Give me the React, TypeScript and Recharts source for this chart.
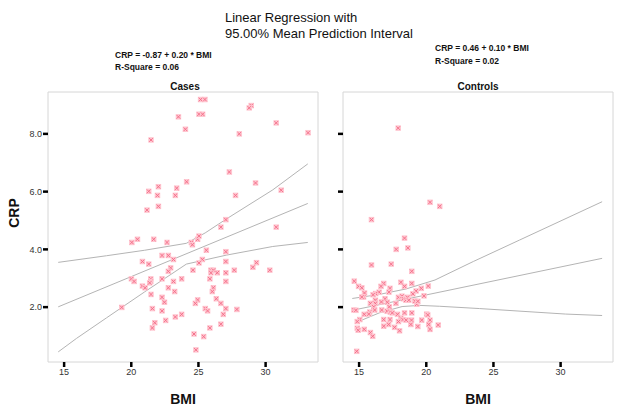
import { ScatterChart, Scatter, XAxis, YAxis, ReferenceArea } from 'recharts'

// Cases: BMI / CRP pairs
const casesBmi = [25.16, 25.48, 28.93, 28.78, 23.51, 25.04, 25.31, 30.79, 24.03, 28.04, 33.16, 21.47, 27.3, 24.12, 29.25, 21.3, 22.02, 23.38, 21.95, 23.28, 27.76, 31.16, 21.17, 22.02, 27.04, 26.67, 30.79, 20.04, 20.46, 21.67, 22.66, 24.47, 24.55, 24.94, 25.04, 22.29, 22.76, 23.14, 25.59, 27.04, 20.83, 21.3, 25.29, 25.04, 27.04, 29.32, 29.05, 30.31, 22.93, 22.76, 24.59, 25.93, 26.11, 25.93, 26.4, 27.04, 27.67, 20.01, 20.21, 21.45, 21.45, 21.37, 22.29, 23.75, 23.14, 25.85, 27.04, 20.83, 21.03, 22.76, 23.23, 26.11, 26.03, 21.47, 22.29, 22.47, 26.33, 24.94, 24.77, 26.67, 19.29, 21.57, 22.29, 25.51, 25.68, 27.04, 27.86, 26.85, 23.75, 23.28, 22.56, 21.75, 21.57, 25.85, 26.67, 24.67, 25.39, 24.81]
const casesCrp = [9.19, 9.19, 8.98, 8.9, 8.59, 8.68, 8.68, 8.38, 8.16, 8.0, 8.04, 7.79, 6.68, 6.34, 6.3, 6.01, 6.17, 6.12, 5.87, 5.87, 5.87, 6.05, 5.36, 5.49, 5.03, 4.77, 4.77, 4.24, 4.35, 4.35, 4.24, 4.24, 4.16, 4.35, 4.46, 3.79, 3.79, 3.65, 3.97, 3.92, 3.58, 3.49, 3.65, 3.53, 3.58, 3.54, 3.38, 3.28, 3.36, 3.24, 3.28, 3.28, 3.28, 3.19, 3.19, 3.19, 3.28, 2.98, 2.89, 2.98, 2.89, 2.84, 2.98, 2.98, 2.89, 2.98, 2.89, 2.73, 2.67, 2.67, 2.54, 2.67, 2.54, 2.44, 2.34, 2.17, 2.29, 2.25, 2.13, 2.13, 1.99, 1.95, 1.87, 1.95, 1.87, 1.95, 1.92, 1.75, 1.75, 1.66, 1.54, 1.46, 1.28, 1.28, 1.41, 1.07, 0.98, 0.52]

// Controls
const controlsBmi = [17.91, 20.28, 21.0, 15.92, 18.38, 17.76, 18.63, 15.92, 17.39, 18.92, 14.64, 14.96, 15.2, 16.83, 16.63, 18.11, 18.38, 18.92, 17.3, 17.22, 16.49, 16.23, 16.04, 15.4, 15.33, 15.2, 19.63, 19.24, 19.0, 20.15, 19.83, 17.93, 18.19, 18.3, 18.48, 18.6, 18.7, 16.93, 16.21, 16.21, 15.84, 16.66, 17.1, 17.25, 17.74, 19.15, 19.29, 19.37, 16.09, 16.16, 14.61, 14.76, 15.79, 15.72, 16.68, 17.08, 17.32, 17.47, 15.38, 17.86, 18.38, 18.92, 20.03, 20.11, 15.05, 14.86, 16.83, 17.3, 18.11, 18.26, 18.5, 17.93, 18.9, 18.85, 19.66, 20.28, 20.18, 17.2, 16.83, 19.37, 20.89, 20.28, 14.86, 14.93, 15.38, 17.64, 18.01, 15.84, 16.01, 14.82]
const controlsCrp = [8.2, 5.63, 5.49, 5.03, 4.39, 4.0, 4.05, 3.46, 3.49, 3.24, 2.9, 2.72, 2.67, 2.82, 2.72, 2.86, 2.72, 2.82, 2.65, 2.52, 2.52, 2.47, 2.43, 2.49, 2.35, 2.35, 2.65, 2.56, 2.46, 2.73, 2.39, 2.34, 2.38, 2.29, 2.24, 2.34, 2.24, 2.29, 2.24, 2.13, 2.13, 2.18, 2.17, 2.01, 2.13, 2.21, 2.1, 2.2, 2.01, 1.9, 1.9, 1.89, 1.83, 1.76, 1.9, 1.86, 1.83, 1.8, 1.75, 1.75, 1.8, 1.8, 1.76, 1.73, 1.57, 1.5, 1.57, 1.57, 1.62, 1.57, 1.55, 1.5, 1.55, 1.4, 1.55, 1.55, 1.4, 1.4, 1.34, 1.33, 1.38, 1.23, 1.27, 1.2, 1.23, 1.3, 1.18, 1.12, 0.99, 0.47]

// fit line and 95% mean interval, [BMI, CRP]
const casesFit = [[14.56, 2.01], [33.14, 5.59]]
const casesUpper = [[14.56, 3.55], [18.16, 3.78], [21, 3.97], [24.1, 4.21], [25.5, 4.57], [27.07, 5.05], [30.53, 6.06], [33.14, 6.96]]
const casesLower = [[14.56, 0.45], [15.93, 0.92], [18.16, 1.63], [21, 2.53], [24.1, 3.49], [27.07, 3.8], [30.53, 4.1], [33.14, 4.24]]
const controlsFit = [[14.6, 1.9], [33.09, 3.69]]
const controlsUpper = [[14.49, 2.3], [16.5, 2.44], [18.5, 2.63], [20.65, 2.94], [23.5, 3.58], [26.93, 4.32], [33.09, 5.65]]
const controlsLower = [[14.73, 1.46], [16.5, 1.8], [18.2, 2.02], [19.5, 2.06], [21, 2.03], [23.97, 1.95], [30.38, 1.76], [33.09, 1.71]]

const xTicks = [15, 20, 25, 30]
const yTicks = [2, 4, 6, 8]

const FONT = '"Liberation Sans", Arial, sans-serif'
const X_DOMAIN = [13.8, 33.9]
const Y_DOMAIN = [0.1, 9.45]

const toPoints = (xs: number[], ys: number[]) => xs.map((x, i) => ({ x, y: ys[i] }))
const toLine = (pairs: number[][]) => pairs.map(([x, y]) => ({ x, y }))

const Marker = (props: any) => {
  const { cx, cy } = props
  if (cx == null || cy == null) return <g />
  return (
    <g>
      <rect x={cx - 2.75} y={cy - 2.75} width={5.5} height={5.5} fill="#ffc6d0" />
      <path
        d={`M${cx - 1.8},${cy - 1.8}L${cx + 1.8},${cy + 1.8}M${cx + 1.8},${cy - 1.8}L${cx - 1.8},${cy + 1.8}`}
        stroke="#f36a86"
        strokeWidth={0.9}
      />
    </g>
  )
}

const NoShape = () => <g />

interface PanelProps {
  points: { x: number; y: number }[]
  fit: number[][]
  upper: number[][]
  lower: number[][]
  showLabels: boolean
}

function Panel({ points, fit, upper, lower, showLabels }: PanelProps) {
  const lineStyle = { stroke: '#b4b4b4', strokeWidth: 1 }
  return (
    <ScatterChart width={330} height={413} margin={{ top: 92, right: 12, bottom: 0, left: 0 }}>
      <ReferenceArea
        x1={X_DOMAIN[0]}
        x2={X_DOMAIN[1]}
        y1={Y_DOMAIN[0]}
        y2={Y_DOMAIN[1]}
        fill="none"
        stroke="#d6d6d6"
        strokeWidth={1}
        ifOverflow="visible"
      />
      <XAxis
        type="number"
        dataKey="x"
        domain={X_DOMAIN}
        ticks={xTicks}
        allowDataOverflow
        height={51}
        axisLine={false}
        tickLine={{ stroke: '#000', strokeWidth: 2.5 }}
        tickSize={5}
        tickMargin={2}
        tick={{ fontSize: 9, fill: '#333', fontFamily: FONT }}
      />
      <YAxis
        type="number"
        dataKey="y"
        domain={Y_DOMAIN}
        ticks={yTicks}
        allowDataOverflow
        width={48}
        axisLine={false}
        tickLine={{ stroke: '#000', strokeWidth: 2.5 }}
        tickSize={5}
        tickMargin={1}
        tickFormatter={(v: number) => (showLabels ? v.toFixed(1) : '')}
        tick={{ fontSize: 9, fill: '#333', fontFamily: FONT }}
      />
      <Scatter data={toLine(upper)} line={lineStyle} shape={NoShape} isAnimationActive={false} />
      <Scatter data={toLine(fit)} line={lineStyle} shape={NoShape} isAnimationActive={false} />
      <Scatter data={toLine(lower)} line={lineStyle} shape={NoShape} isAnimationActive={false} />
      <Scatter data={points} shape={Marker} isAnimationActive={false} />
    </ScatterChart>
  )
}

export default function App() {
  return (
    <div style={{ position: 'absolute', left: 0, top: 0, width: 634, height: 413, background: '#fff', fontFamily: FONT }}>
      <div style={{ position: 'absolute', left: 0, top: 0 }}>
        <Panel
          points={toPoints(casesBmi, casesCrp)}
          fit={casesFit}
          upper={casesUpper}
          lower={casesLower}
          showLabels
        />
      </div>
      <div style={{ position: 'absolute', left: 295, top: 0 }}>
        <Panel
          points={toPoints(controlsBmi, controlsCrp)}
          fit={controlsFit}
          upper={controlsUpper}
          lower={controlsLower}
          showLabels={false}
        />
      </div>
      <svg width={634} height={413} style={{ position: 'absolute', left: 0, top: 0, pointerEvents: 'none' }}>
        <g fontFamily={FONT} fill="#111">
          <text x={225} y={17} fontSize={13} dominantBaseline="central">Linear Regression with</text>
          <text x={225} y={33} fontSize={13} dominantBaseline="central">95.00% Mean Prediction Interval</text>

          <text x={115} y={55} fontSize={8.5} fontWeight="bold" dominantBaseline="central">CRP = -0.87 + 0.20 * BMI</text>
          <text x={115} y={67} fontSize={8.5} fontWeight="bold" dominantBaseline="central">R-Square = 0.06</text>
          <text x={435} y={48} fontSize={8.5} fontWeight="bold" dominantBaseline="central">CRP = 0.46 + 0.10 * BMI</text>
          <text x={435} y={61} fontSize={8.5} fontWeight="bold" dominantBaseline="central">R-Square = 0.02</text>

          <text x={185} y={86} fontSize={10} fontWeight="bold" textAnchor="middle" dominantBaseline="central">Cases</text>
          <text x={478} y={86} fontSize={10} fontWeight="bold" textAnchor="middle" dominantBaseline="central">Controls</text>

          <text x={183} y={399} fontSize={14} fontWeight="bold" textAnchor="middle" dominantBaseline="central">BMI</text>
          <text x={478} y={399} fontSize={14} fontWeight="bold" textAnchor="middle" dominantBaseline="central">BMI</text>
          <text
            x={14}
            y={213}
            fontSize={14}
            fontWeight="bold"
            textAnchor="middle"
            dominantBaseline="central"
            transform="rotate(-90 14 213)"
          >
            CRP
          </text>
        </g>
      </svg>
    </div>
  )
}
